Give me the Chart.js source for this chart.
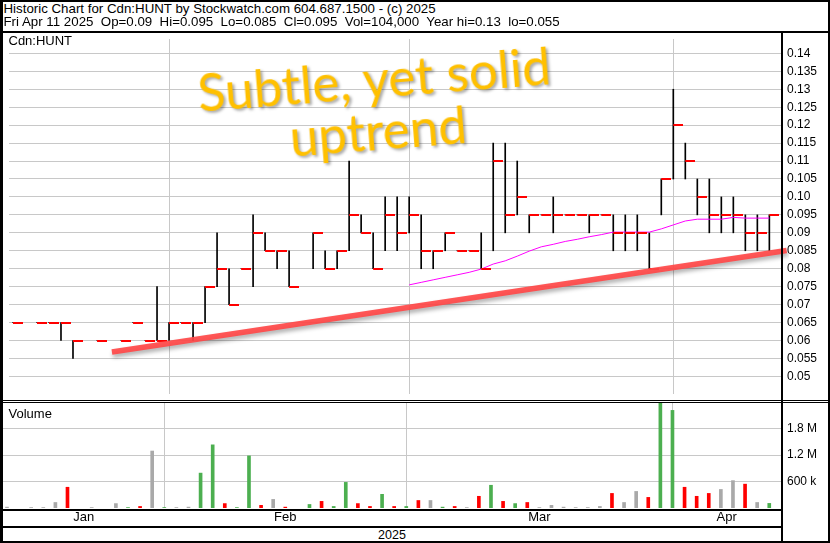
<!DOCTYPE html>
<html><head><meta charset="utf-8">
<script src="https://cdn.jsdelivr.net/npm/chart.js@4.4.1/dist/chart.umd.min.js"></script>
<style>
html,body{margin:0;padding:0;background:#fff;}
#wrap{position:relative;width:830px;height:543px;overflow:hidden;background:#fff;font-family:"Liberation Sans",Arial,sans-serif;color:#000;}
.ln{position:absolute;background:#000;z-index:2;}
.txt{position:absolute;white-space:pre;z-index:2;}
canvas{position:absolute;z-index:1;}
#note{position:absolute;left:125.5px;top:52px;width:500px;text-align:center;font-family:Lato,"Open Sans",sans-serif;font-size:50px;line-height:52px;color:#FFC000;transform:rotate(-4.5deg);text-shadow:2px 2px 3px rgba(0,0,0,0.35);white-space:pre;z-index:3;}
</style></head><body>
<div id="wrap">
  <div class="txt" style="left:3.5px;top:1.5px;font-size:13.3px;line-height:14px;">Historic Chart for Cdn:HUNT by Stockwatch.com 604.687.1500 - (c) 2025</div>
  <div class="txt" style="left:3.5px;top:15px;font-size:13.3px;line-height:14px;">Fri Apr 11 2025  Op=0.09  Hi=0.095  Lo=0.085  Cl=0.095  Vol=104,000  Year hi=0.13  lo=0.055</div>
  <div class="txt" style="left:8.5px;top:33px;font-size:13px;line-height:15px;">Cdn:HUNT</div>
  <div class="txt" style="left:8.5px;top:406px;font-size:13px;line-height:15px;">Volume</div>
  <div class="txt" style="left:3px;width:778px;top:528px;font-size:12.5px;line-height:14px;text-align:center;">2025</div>

  <div class="ln" style="left:0;top:0;width:830px;height:2px;"></div>
  <div class="ln" style="left:0;top:0;width:3px;height:543px;"></div>
  <div class="ln" style="left:828px;top:0;width:2px;height:543px;"></div>
  <div class="ln" style="left:0;top:541px;width:830px;height:2px;"></div>
  <div class="ln" style="left:0;top:31px;width:830px;height:2px;"></div>
  <div class="ln" style="left:0;top:400px;width:830px;height:1px;"></div>
  <div class="ln" style="left:0;top:402px;width:830px;height:1px;"></div>
  <div class="ln" style="left:0;top:509px;width:783px;height:2px;"></div>
  <div class="ln" style="left:0;top:526px;width:783px;height:2px;"></div>
  <div class="ln" style="left:781px;top:31px;width:2px;height:512px;"></div>

  <canvas id="price" width="827" height="367" style="left:3px;top:33px;width:827px;height:367px;"></canvas>
  <canvas id="vol" width="827" height="124" style="left:3px;top:402px;width:827px;height:124px;"></canvas>
  <div id="note">Subtle, yet solid
uptrend</div>
</div>
<script>
// ---- data (one entry per trading-day slot; null = no trade) ----
const monthNames = ['Jan', 'Feb', 'Mar', 'Apr'];
const monthStarts = [13, 33, 55];
const priceTicks = [0.05, 0.055, 0.06, 0.065, 0.07, 0.075, 0.08, 0.085, 0.09, 0.095, 0.10, 0.105, 0.11, 0.115, 0.12, 0.125, 0.13, 0.135, 0.14];
const volTicks = [600000, 1200000, 1800000];

const high = [0.065, null, 0.065, 0.065, 0.065, 0.06, null, 0.06, null, 0.06,
  0.065, 0.06, 0.075, 0.065, 0.065, 0.065, 0.075, 0.09, 0.08, 0.08,
  0.095, 0.09, 0.085, 0.085, null, 0.09, 0.085, 0.085, 0.11, 0.095,
  0.09, 0.10, 0.10, 0.10, 0.095, 0.085, 0.09, 0.085, 0.085, 0.09,
  0.115, 0.115, 0.11, 0.095, 0.095, 0.10, 0.095, 0.095, 0.095, 0.095,
  0.095, 0.095, 0.095, 0.09, 0.105, 0.13, 0.115, 0.105, 0.105, 0.10,
  0.10, 0.095, 0.095, 0.095];
const low = [0.065, null, 0.065, 0.065, 0.06, 0.055, null, 0.06, null, 0.06,
  0.065, 0.06, 0.06, 0.06, 0.065, 0.06, 0.065, 0.075, 0.07, 0.08,
  0.075, 0.085, 0.08, 0.075, null, 0.08, 0.08, 0.08, 0.085, 0.09,
  0.08, 0.085, 0.085, 0.09, 0.08, 0.08, 0.085, 0.085, 0.085, 0.08,
  0.085, 0.09, 0.095, 0.09, 0.095, 0.09, 0.095, 0.095, 0.09, 0.095,
  0.085, 0.085, 0.085, 0.08, 0.095, 0.105, 0.105, 0.095, 0.09, 0.09,
  0.09, 0.085, 0.085, 0.085];
const close = [0.065, null, 0.065, 0.065, 0.065, 0.06, null, 0.06, null, 0.06,
  0.065, 0.06, 0.06, 0.065, 0.065, 0.065, 0.075, 0.08, 0.07, 0.08,
  0.09, 0.085, 0.085, 0.075, null, 0.09, 0.08, 0.085, 0.095, 0.09,
  0.08, 0.095, 0.09, 0.095, 0.085, 0.085, 0.09, 0.085, 0.085, 0.08,
  0.11, 0.095, 0.10, 0.095, 0.095, 0.095, 0.095, 0.095, 0.095, 0.095,
  0.09, 0.09, 0.09, 0.08, 0.105, 0.12, 0.11, 0.10, 0.095, 0.095,
  0.095, 0.09, 0.09, 0.095];
const movingAvg = [null, null, null, null, null, null, null, null, null, null,
  null, null, null, null, null, null, null, null, null, null,
  null, null, null, null, null, null, null, null, null, null,
  null, null, null, 0.0755, 0.0762, 0.0769, 0.0776, 0.0783, 0.0790, 0.0799,
  0.0813, 0.0822, 0.0835, 0.0849, 0.0861, 0.0868, 0.0876, 0.0882, 0.0889, 0.0895,
  0.0902, 0.0902, 0.0902, 0.0902, 0.0911, 0.0922, 0.0933, 0.0938, 0.0938, 0.0938,
  0.0943, 0.0941, 0.0941, 0.0941];
const volume = [20000, null, 10000, 10000, 125000, 470000, null, 10000, null, 100000,
  10000, 35000, 1290000, 10000, 10000, 20000, 790000, 1430000, 100000, 10000,
  1180000, 60000, 195000, 20000, null, 80000, 150000, 35000, 580000, 100000,
  35000, 310000, 35000, 35000, 170000, 170000, 20000, 35000, 10000, 265000,
  515000, 150000, 100000, 125000, 10000, 60000, 20000, 10000, 10000, 35000,
  330000, 125000, 375000, 240000, 2500000, 2210000, 470000, 265000, 330000, 420000,
  620000, 540000, 125000, 104000];
// hand-drawn trend line annotation: [slot, price] end points
const trendStart = [8.24, 0.0568];
const trendEnd = [64.44, 0.0851];

// ---- layout / style ----
const xMin = -0.33, xMax = 63.97;
const priceMin = 0.0451, priceMax = 0.1440;
const volMax = 2400000;
const gridColor = '#c8c8c8';
const FONT = '"Liberation Sans", Arial, sans-serif';
const UP = '#4caf50', DOWN = '#ff0000', FLAT = '#a9a9a9';

// fit annotation font to the reference width
(function(){
  const c = document.createElement('canvas').getContext('2d');
  c.font = '100px Lato';
  const w = c.measureText('Subtle, yet solid').width;
  document.getElementById('note').style.fontSize = (100 * 355 / w).toFixed(1) + 'px';
})();

const idx = high.map((_, i) => i);
const hlData = idx.filter(i => high[i] != null).map(i => ({x: i, y: [low[i], high[i]]}));
const closeData = idx.filter(i => close[i] != null).map(i => ({x: i, y: close[i]}));
const maData = idx.filter(i => movingAvg[i] != null).map(i => ({x: i, y: movingAvg[i]}));
const trendData = [{x: trendStart[0], y: trendStart[1]}, {x: trendEnd[0], y: trendEnd[1]}];

const volIdx = idx.filter(i => volume[i] != null);
const volData = volIdx.map(i => ({x: i, y: volume[i]}));
let prev = null;
const volColors = volIdx.map(i => {
  const c = close[i];
  const col = prev == null || c === prev ? FLAT : (c > prev ? UP : DOWN);
  prev = c;
  return col;
});

const edges = [xMin, ...monthStarts, xMax];
const monthCenters = monthNames.map((_, k) => (edges[k] + edges[k + 1]) / 2);

// close tick: right-hand half of a small image centred on the close point
const tickImg = document.createElement('canvas');
tickImg.width = 20; tickImg.height = 2;
(function(){ const t = tickImg.getContext('2d'); t.fillStyle = '#ff0000'; t.fillRect(10, 0, 10, 2); })();

const shadowPlugin = {
  id: 'shadow',
  beforeDatasetDraw(chart, args) {
    if (chart.data.datasets[args.index].shadow) {
      const c = chart.ctx; c.save();
      c.shadowColor = 'rgba(0,0,0,0.35)'; c.shadowBlur = 4; c.shadowOffsetX = 1; c.shadowOffsetY = 3;
    }
  },
  afterDatasetDraw(chart, args) {
    if (chart.data.datasets[args.index].shadow) chart.ctx.restore();
  }
};

const fmtPrice = v => (Math.abs(v * 100 - Math.round(v * 100)) < 1e-7 ? v.toFixed(2) : v.toFixed(3));
const fmtVol = v => (v >= 1e6 ? (v / 1e6).toFixed(1) + ' M' : Math.round(v / 1e3) + ' k');

function gridX() {
  return {
    type: 'linear', min: xMin, max: xMax, offset: false,
    ticks: {display: false},
    grid: {color: gridColor, drawTicks: false, offset: false, lineWidth: 1},
    border: {display: false},
    afterBuildTicks: s => { s.ticks = monthStarts.map(v => ({value: v})); },
    afterFit: s => { s.height = 0; s.paddingLeft = 0; s.paddingRight = 0; }
  };
}
function rightY(min, max, ticks, fmt) {
  return {
    position: 'right', min: min, max: max,
    ticks: {font: {family: FONT, size: 12}, color: '#000', padding: 6, autoSkip: false, callback: v => fmt(v)},
    grid: {color: gridColor, drawTicks: false, lineWidth: 1},
    border: {display: false},
    afterBuildTicks: s => { s.ticks = ticks.map(v => ({value: v})); },
    afterFit: s => { s.width = 49; s.paddingTop = 0; s.paddingBottom = 0; }
  };
}
const common = {
  responsive: false, animation: false, devicePixelRatio: 1, events: [],
  layout: {padding: 0},
  plugins: {legend: {display: false}, tooltip: {enabled: false}}
};

new Chart(document.getElementById('price'), {
  type: 'bar',
  data: {datasets: [
    {type: 'line', data: trendData, borderColor: 'rgba(255,72,72,0.92)', borderWidth: 5.5, pointRadius: 0,
     shadow: true, clip: {left: 0, top: 0, right: 8, bottom: 0}, order: 0},
    {type: 'line', data: closeData, showLine: false, pointStyle: tickImg, pointRadius: 5, order: 1},
    {type: 'line', data: maData, borderColor: '#ff00ff', borderWidth: 1, pointRadius: 0, tension: 0, order: 2},
    {type: 'bar', data: hlData, backgroundColor: '#000', borderWidth: 0, barThickness: 1, order: 3}
  ]},
  options: Object.assign({}, common, {
    scales: {x: gridX(), y: rightY(priceMin, priceMax, priceTicks, fmtPrice)}
  }),
  plugins: [shadowPlugin]
});

new Chart(document.getElementById('vol'), {
  type: 'bar',
  data: {datasets: [{data: volData, backgroundColor: volColors, borderWidth: 0, barThickness: 3}]},
  options: Object.assign({}, common, {
    scales: {
      x: gridX(),
      x2: {
        type: 'linear', position: 'bottom', min: xMin, max: xMax, offset: false,
        grid: {display: false, drawTicks: false}, border: {display: false},
        ticks: {autoSkip: false, maxRotation: 0, font: {family: FONT, size: 13}, color: '#000', padding: 2,
                callback: (v, i) => monthNames[i]},
        afterBuildTicks: s => { s.ticks = monthCenters.map(v => ({value: v})); },
        afterFit: s => { s.height = 18; s.paddingLeft = 0; s.paddingRight = 0; }
      },
      y: rightY(0, volMax, volTicks, fmtVol)
    }
  })
});
</script>
</body></html>
